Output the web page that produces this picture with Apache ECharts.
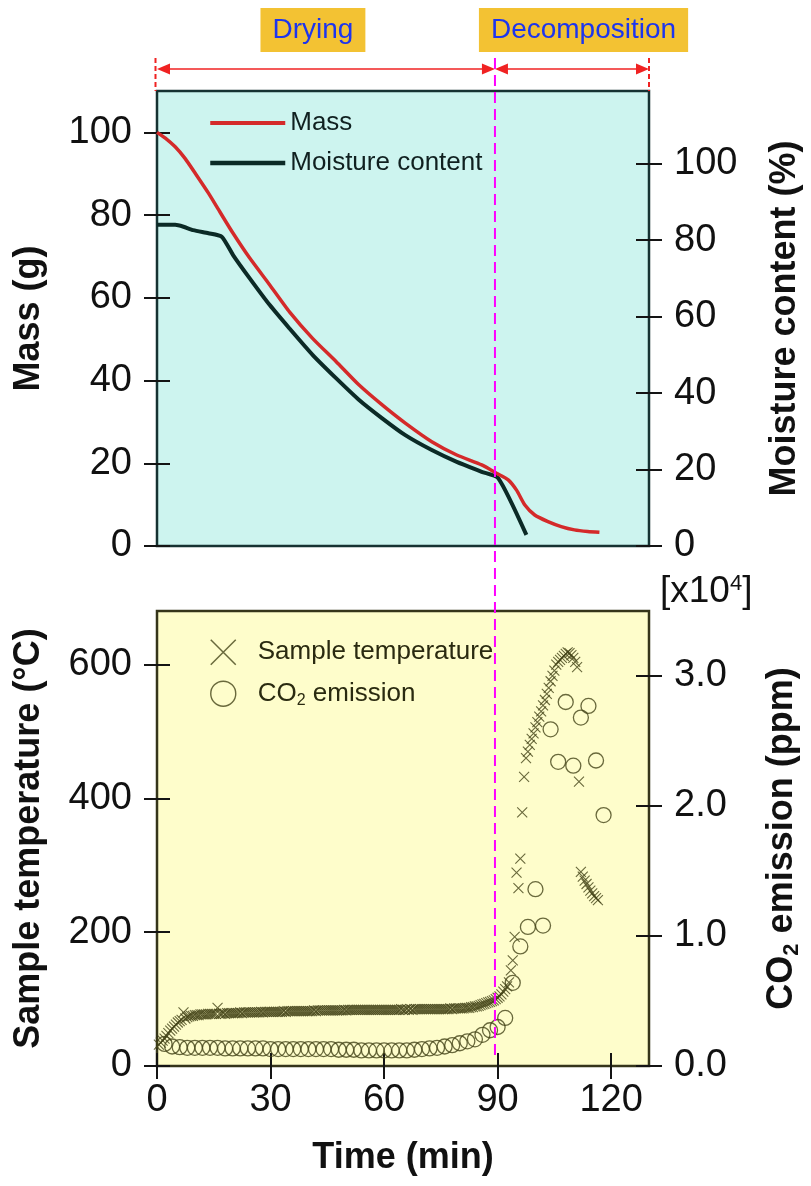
<!DOCTYPE html>
<html>
<head>
<meta charset="utf-8">
<title>Drying and decomposition</title>
<script src="https://cdn.jsdelivr.net/npm/echarts@6/dist/echarts.min.js"></script>
<style>
  html, body { margin: 0; padding: 0; background: #ffffff; }
  #chart { width: 811px; height: 1186px; }
</style>
</head>
<body>
<div id="chart"></div>
<script>
// ---- Upper panel: sample mass (g) and moisture content (%) vs time (min) ----
const massTime = [0, 2.2, 4.8, 7.4, 10.4, 13.6, 16.6, 20.1, 24.5, 29.8, 35.0, 41.1, 47.3, 53.4, 59.5,
  65.6, 72.6, 79.2, 85.8, 89.7, 92.8, 95.0, 97.2, 99.8, 103.3, 106.8, 110.3, 113.8, 116.9];
const massValue = [100, 98.6, 96.5, 93.7, 89.7, 85.3, 80.8, 75.6, 69.6, 63.1, 56.6, 50.2, 44.6, 38.9, 34.1,
  29.7, 25.2, 22.0, 19.6, 17.6, 16.0, 13.5, 9.9, 7.5, 5.9, 4.7, 3.9, 3.5, 3.3];

const moistureTime = [0, 4.8, 7.0, 9.6, 13.6, 17.1, 20.1, 24.5, 29.8, 35.0, 41.1, 47.3, 53.4, 59.5,
  65.6, 72.6, 79.2, 85.8, 90.2, 97.6];
const moistureValue = [84.0, 84.0, 83.5, 82.6, 81.8, 80.9, 76.1, 70.0, 63.0, 56.9, 50.0, 43.9, 38.2, 33.4,
  29.0, 25.1, 22.0, 19.4, 17.7, 2.9];

// ---- Lower panel: sample temperature (°C), logged every 0.5 min from 0.5 min ----
const TEMP_FIRST_MIN = 0.5;
const TEMP_STEP_MIN = 0.5;
const tempValue = [
  32, 35, 38, 41, 45, 49, 53, 56, 59, 62, 65, 67, 69, 80, 71, 73, 74, 75, 75, 76,            // 0.5 - 10
  76, 76, 77, 77, 77, 77, 78, 78, 78, 78, 78, 87, 78, 78, 79, 78, 79, 79, 79, 79,            // 10.5 - 20
  79, 79, 79, 80, 79, 80, 80, 80, 80, 80, 80, 80, 80, 80, 81, 80, 81, 81, 81, 81,            // 20.5 - 30
  81, 81, 81, 81, 81, 81, 82, 81, 82, 82, 82, 82, 82, 82, 82, 82, 82, 82, 82, 82,            // 30.5 - 40
  82, 82, 83, 82, 83, 83, 83, 83, 83, 83, 83, 83, 83, 83, 83, 83, 83, 83, 84, 83,            // 40.5 - 50
  84, 84, 84, 84, 84, 84, 84, 84, 84, 84, 84, 84, 84, 84, 84, 84, 84, 84, 84, 84,            // 50.5 - 60
  84, 84, 84, 84, 84, 84, 84, 84, 85, 84, 84, 85, 84, 85, 84, 85, 85, 85, 85, 85,            // 60.5 - 70
  85, 85, 85, 85, 85, 85, 85, 85, 85, 85, 85, 85, 85, 85, 86, 85, 86, 86, 86, 86,            // 70.5 - 80
  86, 86, 87, 87, 87, 88, 88, 89, 89, 90, 91, 92, 93, 94, 95, 96, 97, 98, 100, 102,          // 80.5 - 90
  104, 107, 111, 115, 119, 125, 143, 158, 193, 289, 266, 310, 379, 432, 460, 470, 480, 489, 497, 506, // 90.5 - 100
  514, 522, 530, 539, 547, 556, 565, 575, 583, 591, 600, 604, 607, 610, 613, 616, 618, 617, 614, 610, // 100.5 - 110
  604, 596, 425, 290, 283, 277, 272, 267, 262, 258, 254, 251, 248                            // 110.5 - 116.5
];

// CO2 emission (x10^4 ppm), logged every 2 min from 2 min
const CO2_FIRST_MIN = 2;
const CO2_STEP_MIN = 2;
const co2Value = [
  0.17, 0.15, 0.145, 0.14, 0.14, 0.14, 0.14, 0.14, 0.135, 0.135,   // 2 - 20
  0.135, 0.135, 0.135, 0.135, 0.13, 0.13, 0.13, 0.13, 0.13, 0.13,  // 22 - 40
  0.13, 0.13, 0.13, 0.125, 0.125, 0.125, 0.12, 0.12, 0.12, 0.12,   // 42 - 60
  0.12, 0.12, 0.12, 0.125, 0.13, 0.135, 0.14, 0.15, 0.16, 0.175,   // 62 - 80
  0.19, 0.205, 0.24, 0.275, 0.30, 0.37, 0.64, 0.92, 1.07, 1.36,    // 82 - 100
  1.08, 2.59, 2.34, 2.80, 2.31, 2.68, 2.77, 2.35, 1.93             // 102 - 118
];

// Axis ticks
const timeTicks = [0, 30, 60, 90, 120];
const massTicks = [0, 20, 40, 60, 80, 100];
const moistureTicks = [0, 20, 40, 60, 80, 100];
const tempTicks = [0, 200, 400, 600];
const co2Ticks = [0, 1, 2, 3];

// Phase boundaries (min) and labels
const RUN_END_MIN = 130;
const DRYING_END_MIN = 89.3;
const phaseLabels = ['Drying', 'Decomposition'];
const phaseLabelAt = [41.2, 112.7];

// ---- styling ----
const FONT = '"Liberation Sans", Arial, Helvetica, sans-serif';
const TICK_COLOR = '#141414';
const TICK_LEN = 13;
const GRID_LEFT = 157, GRID_RIGHT = 159, GRID_H = 455;
const TOP1 = 91, TOP2 = 611;
const MARKER_COLOR = '#434318';
const MASS_COLOR = '#d42a2a';
const MOIST_COLOR = '#0b2a26';

const zip = (xs, ys) => xs.map((x, i) => [x, ys[i]]);
const tempTime = tempValue.map((_, i) => TEMP_FIRST_MIN + i * TEMP_STEP_MIN);
const co2Time = co2Value.map((_, i) => CO2_FIRST_MIN + i * CO2_STEP_MIN);

const tickStyle = { color: TICK_COLOR, width: 2 };
const labelStyle = { fontSize: 38, color: '#111111', fontFamily: FONT };
const nameStyle = { fontSize: 36, fontWeight: 'bold', color: '#111111', fontFamily: FONT };

function yAxisPair(gridIndex, position, min, max, ticks, extra) {
  const main = Object.assign({
    type: 'value', gridIndex, position, min, max,
    axisLine: { show: false, onZero: false },
    splitLine: { show: false },
    axisTick: { show: true, length: TICK_LEN, lineStyle: tickStyle, customValues: ticks },
    axisLabel: Object.assign({ margin: 25, customValues: ticks }, labelStyle),
    nameLocation: 'middle',
    nameTextStyle: nameStyle
  }, extra);
  const inner = {
    type: 'value', gridIndex, position, min, max,
    axisLine: { show: false, onZero: false },
    splitLine: { show: false },
    axisTick: { show: true, inside: true, length: TICK_LEN, lineStyle: tickStyle, customValues: ticks },
    axisLabel: { show: false }
  };
  return [main, inner];
}

const [massAxis, massAxisIn] = yAxisPair(0, 'left', 0, 110, massTicks, { name: 'Mass (g)', nameGap: 110 });
const [moistAxis, moistAxisIn] = yAxisPair(0, 'right', 0, 119, moistureTicks, { name: 'Moisture content (%)', nameGap: 118 });
const [tempAxis, tempAxisIn] = yAxisPair(1, 'left', 0, 680, tempTicks, { name: 'Sample temperature (°C)', nameGap: 110 });
const [co2Axis, co2AxisIn] = yAxisPair(1, 'right', 0, 3.5, co2Ticks, {
  name: 'CO{sub|2} emission (ppm)', nameGap: 112,
  nameTextStyle: Object.assign({}, nameStyle, {
    rich: { sub: { fontSize: 22, fontWeight: 'bold', fontFamily: FONT, color: '#111111', padding: [20, 0, 0, 0] } }
  })
});
co2Axis.axisLabel.formatter = v => v.toFixed(1);

const CROSS = 'path://M0,0L10,10M10,0L0,10';

const chart = echarts.init(document.getElementById('chart'));

chart.setOption({
  animation: false,
  backgroundColor: '#ffffff',
  textStyle: { fontFamily: FONT },
  grid: [
    { left: GRID_LEFT, right: GRID_RIGHT, top: TOP1, height: GRID_H, show: true,
      backgroundColor: '#cdf4ef', borderColor: '#163232', borderWidth: 2.5 },
    { left: GRID_LEFT, right: GRID_RIGHT, top: TOP2, height: GRID_H, show: true,
      backgroundColor: '#fefdcb', borderColor: '#35351a', borderWidth: 2.5 }
  ],
  xAxis: [
    { type: 'value', gridIndex: 0, min: 0, max: RUN_END_MIN, show: false },
    { type: 'value', gridIndex: 1, min: 0, max: RUN_END_MIN, position: 'bottom',
      axisLine: { show: false, onZero: false }, splitLine: { show: false },
      axisTick: { show: true, length: TICK_LEN, lineStyle: tickStyle, customValues: timeTicks },
      axisLabel: Object.assign({ margin: 16, customValues: timeTicks }, labelStyle),
      name: 'Time (min)', nameLocation: 'middle', nameGap: 74, nameTextStyle: nameStyle },
    { type: 'value', gridIndex: 1, min: 0, max: RUN_END_MIN, position: 'bottom',
      axisLine: { show: false, onZero: false }, splitLine: { show: false },
      axisTick: { show: true, inside: true, length: TICK_LEN, lineStyle: tickStyle, customValues: timeTicks },
      axisLabel: { show: false } }
  ],
  yAxis: [massAxis, moistAxis, massAxisIn, moistAxisIn, tempAxis, co2Axis, tempAxisIn, co2AxisIn],
  legend: [
    { data: [
        { name: 'Mass', itemStyle: { opacity: 0 }, lineStyle: { width: 4, color: MASS_COLOR } },
        { name: 'Moisture content', itemStyle: { opacity: 0 }, lineStyle: { width: 4.5, color: MOIST_COLOR } }
      ],
      orient: 'vertical', left: 203, top: 105,
      itemWidth: 75, itemHeight: 26, itemGap: 14, selectedMode: false,
      textStyle: { fontSize: 26, color: '#102020', fontFamily: FONT } },
    { data: [
        { name: 'Sample temperature', itemStyle: { borderWidth: 1.5 } },
        { name: 'CO2 emission', itemStyle: { borderWidth: 1.4 } }
      ],
      orient: 'vertical', left: 205, top: 634, itemWidth: 25, itemHeight: 25, itemGap: 15,
      selectedMode: false,
      formatter: n => (n === 'CO2 emission' ? 'CO{sub|2} emission' : n),
      textStyle: { fontSize: 26, color: '#2a2a10', fontFamily: FONT, padding: [0, 0, 0, 17],
        rich: { sub: { fontSize: 16, color: '#2a2a10', fontFamily: FONT, padding: [14, 0, 0, 0] } } } }
  ],
  series: [
    { name: 'Mass', type: 'line', xAxisIndex: 0, yAxisIndex: 0, data: zip(massTime, massValue),
      symbol: 'none', smooth: 0.2, z: 3,
      lineStyle: { color: MASS_COLOR, width: 3.5 }, itemStyle: { color: MASS_COLOR } },
    { name: 'Moisture content', type: 'line', xAxisIndex: 0, yAxisIndex: 1, data: zip(moistureTime, moistureValue),
      symbol: 'none', smooth: 0.2, z: 2,
      lineStyle: { color: MOIST_COLOR, width: 4 }, itemStyle: { color: MOIST_COLOR } },
    { name: 'Sample temperature', type: 'scatter', xAxisIndex: 1, yAxisIndex: 4, data: zip(tempTime, tempValue),
      symbol: CROSS, symbolSize: 10,
      itemStyle: { color: 'transparent', borderColor: MARKER_COLOR, borderWidth: 1.1 } },
    { name: 'CO2 emission', type: 'scatter', xAxisIndex: 1, yAxisIndex: 5, data: zip(co2Time, co2Value),
      symbol: 'circle', symbolSize: 15,
      itemStyle: { color: 'transparent', borderColor: MARKER_COLOR, borderWidth: 1.3 } }
  ]
});

// ---- phase annotations above the panels and the drying/decomposition boundary ----
const xAt = t => chart.convertToPixel({ xAxisIndex: 0 }, t);
const xStart = xAt(0), xEnd = xAt(RUN_END_MIN), xSplit = xAt(DRYING_END_MIN);
const ARROW_Y = 69, MARK_TOP = 58, RED = '#f02222';

function arrowHead(x, dir) {
  return { type: 'polygon', z: 60,
    shape: { points: [[x, ARROW_Y], [x - dir * 13, ARROW_Y - 5.5], [x - dir * 13, ARROW_Y + 5.5]] },
    style: { fill: RED } };
}
function span(a, b) {
  return [
    { type: 'line', z: 60, shape: { x1: a + 6, y1: ARROW_Y, x2: b - 6, y2: ARROW_Y },
      style: { stroke: RED, lineWidth: 1.6 } },
    arrowHead(a, -1), arrowHead(b, 1)
  ];
}
function redMarker(x) {
  return { type: 'line', z: 60, shape: { x1: x, y1: MARK_TOP, x2: x, y2: TOP1 },
    style: { stroke: RED, lineWidth: 2, lineDash: [5, 3] } };
}
function phaseBox(text, t) {
  return { type: 'text', z: 70, x: xAt(t), y: 8,
    style: { text, fontSize: 28, fontFamily: FONT, fill: '#1d35ee',
      backgroundColor: '#f3c233', padding: [8, 12, 8, 12],
      align: 'center', verticalAlign: 'top', textAlign: 'center', textVerticalAlign: 'top' } };
}

chart.setOption({
  graphic: [
    redMarker(xStart - 1.5), redMarker(xEnd),
    ...span(xStart, xSplit), ...span(xSplit, xEnd),
    phaseBox(phaseLabels[0], phaseLabelAt[0]),
    phaseBox(phaseLabels[1], phaseLabelAt[1]),
    { type: 'line', z: 80, shape: { x1: xSplit, y1: MARK_TOP, x2: xSplit, y2: TOP2 + GRID_H - 8 },
      style: { stroke: '#ff00ff', lineWidth: 2, lineDash: [11, 6] } },
    { type: 'text', z: 70, x: xEnd + 11, y: TOP2 - 19,
      style: { text: '[x10{sup|4}]', fontSize: 37, fontFamily: FONT, fill: '#111111',
        verticalAlign: 'middle', textVerticalAlign: 'middle',
        rich: { sup: { fontSize: 22, fontFamily: FONT, fill: '#111111', padding: [0, 0, 16, 0] } } } }
  ]
});
</script>
</body>
</html>
